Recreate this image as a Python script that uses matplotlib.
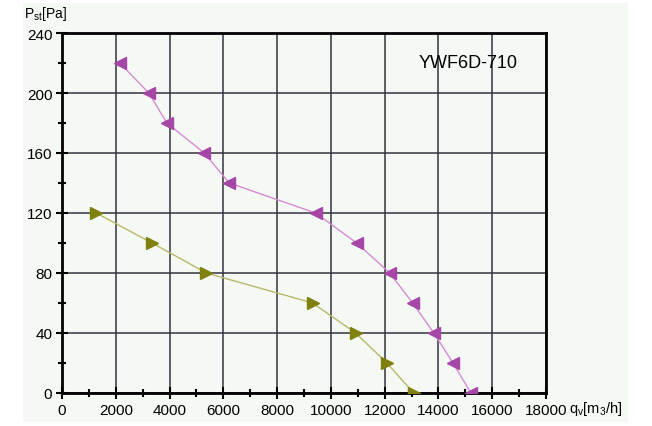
import matplotlib.pyplot as plt
from matplotlib.patches import Rectangle
from matplotlib.ticker import MultipleLocator

plt.rcParams['font.family'] = ['Liberation Sans', 'DejaVu Sans']

# upper curve (magenta)
flow_a = [2150, 3230, 3900, 5290, 6220, 9430, 10960, 12190, 13040, 13830, 14540, 15210]
press_a = [220, 200, 180, 160, 140, 120, 100, 80, 60, 40, 20, 0]

# lower curve (olive)
flow_b = [1270, 3350, 5370, 9320, 10920, 12080, 13080]
press_b = [120, 100, 80, 60, 40, 20, 0]

model_name = 'YWF6D-710'

fig = plt.figure(figsize=(6.52, 4.27), dpi=100)
fig.patch.set_facecolor('white')
bg = Rectangle((23 / 652, 4 / 427), (628 - 23) / 652, (423 - 4) / 427,
               transform=fig.transFigure, facecolor='#f4f9f4', edgecolor='none', zorder=-10)
fig.patches.append(bg)

ax = fig.add_axes([62 / 652, 33 / 427, (546 - 62) / 652, (394 - 34) / 427])
ax.set_facecolor('#f4f9f4')

ax.plot(flow_a, press_a, color='#d68ad6', lw=1.0, zorder=3)
ax.plot(flow_a, press_a, ls='none', marker='<', ms=8, color='#a646a6', zorder=4)
ax.plot(flow_b, press_b, color='#b8b86a', lw=1.0, zorder=3)
ax.plot(flow_b, press_b, ls='none', marker='>', ms=8, color='#80800e', zorder=4)

ax.set_xlim(0, 18000)
ax.set_ylim(0, 240)
ax.xaxis.set_major_locator(MultipleLocator(2000))
ax.xaxis.set_minor_locator(MultipleLocator(1000))
ax.yaxis.set_major_locator(MultipleLocator(40))
ax.yaxis.set_minor_locator(MultipleLocator(20))
ax.grid(True, which='major', color='#33333f', lw=1.1, zorder=1)

ax.tick_params(which='both', direction='inout', color='black', width=1.5)
ax.tick_params(which='major', length=8, labelsize=11, pad=3)
ax.tick_params(which='minor', length=6)
for s in ax.spines.values():
    s.set_linewidth(2)
    s.set_color('black')

ax.text(0.839, 0.919, model_name, transform=ax.transAxes, fontsize=13, ha='center', va='center')

fig.text(24 / 652, 1 - 14 / 427, r'P$_{\mathregular{st}}$[Pa]', fontsize=10, ha='left', va='center')
fig.text(569 / 652, 1 - 409 / 427, r'q$_{\mathregular{v}}$[m$_{\mathregular{3}}$/h]', fontsize=10.5,
         ha='left', va='center')

fig.savefig('out.png', dpi=100, facecolor=fig.get_facecolor())
